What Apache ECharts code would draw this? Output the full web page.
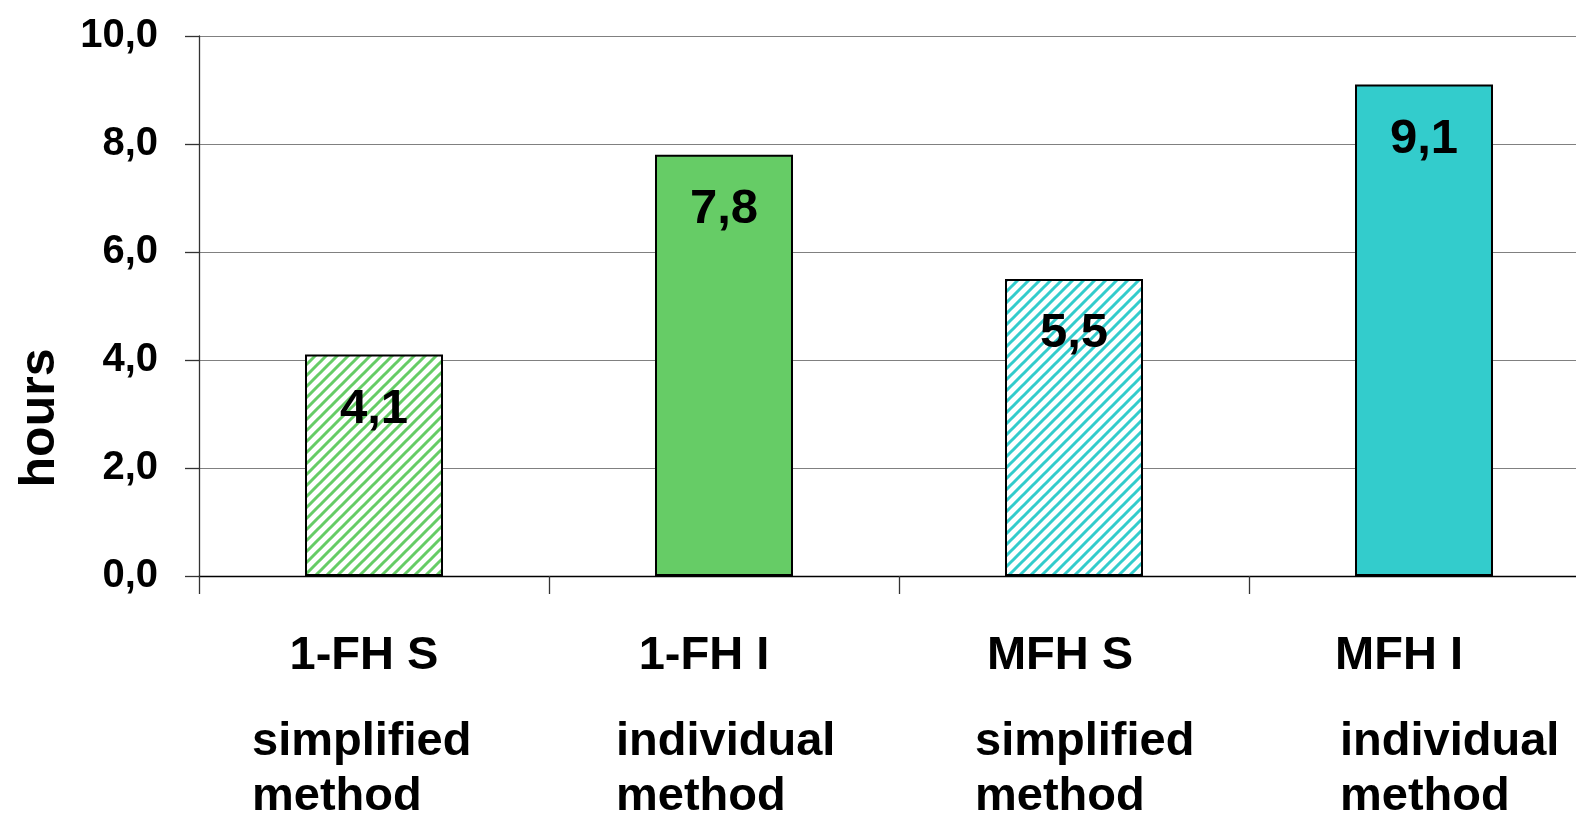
<!DOCTYPE html>
<html>
<head>
<meta charset="utf-8">
<script src="https://cdn.jsdelivr.net/npm/echarts@6/dist/echarts.min.js"></script>
<style>
html,body{margin:0;padding:0;background:#fff;}
#chart{width:1576px;height:819px;}
</style>
</head>
<body>
<div id="chart"></div>
<script>
// ---- data ----
var codes = ['1-FH S', '1-FH I', 'MFH S', 'MFH I'];
var methods = ['simplified', 'individual', 'simplified', 'individual'];
var values = [4.1, 7.8, 5.5, 9.1];
var yTicks = [0, 2, 4, 6, 8, 10];

// ---- styles ----
var GREEN = '#66cc66', TEAL = '#33cccc';
var FONT = '"Liberation Sans", Arial, sans-serif';

function hatch(color) {
  var s = 11;
  var c = document.createElement('canvas');
  c.width = s; c.height = s;
  var g = c.getContext('2d');
  g.fillStyle = '#ffffff';
  g.fillRect(0, 0, s, s);
  g.strokeStyle = color;
  g.lineWidth = 3;
  g.beginPath();
  g.moveTo(-2, s + 2); g.lineTo(s + 2, -2);
  g.moveTo(-2, 2); g.lineTo(2, -2);
  g.moveTo(s - 2, s + 2); g.lineTo(s + 2, s - 2);
  g.stroke();
  return { image: c, repeat: 'repeat' };
}

var fills = [hatch(GREEN), GREEN, hatch(TEAL), TEAL];
// horizontal nudges of label lines (code line, method lines) relative to category centre
var codeShift = [-10, -20, -14, -25];
var subShift = [-11, 3, 12, 27];

function spacerLine(text, style, shift) {
  var w = Math.round(Math.abs(shift) * 2);
  var sp = '{sp' + w + '| }';
  if (shift >= 0) return sp + '{' + style + '|' + text + '}';
  return '{' + style + '|' + text + '}' + sp;
}

var rich = {
  c: { fontFamily: FONT, fontWeight: 'bold', fontSize: 47, color: '#000', lineHeight: 117 },
  s: { fontFamily: FONT, fontWeight: 'bold', fontSize: 47, color: '#000', lineHeight: 55, width: 222, align: 'left' }
};
codeShift.concat(subShift).forEach(function (v) {
  var w = Math.round(Math.abs(v) * 2);
  rich['sp' + w] = { width: w, fontSize: 10, lineHeight: 10, align: 'left' };
});

var chart = echarts.init(document.getElementById('chart'), null, { renderer: 'canvas' });
chart.setOption({
  animation: false,
  backgroundColor: '#ffffff',
  grid: { left: 199, top: 36, width: 1400, height: 540, containLabel: false, outerBoundsMode: 'none' },
  xAxis: {
    type: 'category',
    data: codes,
    boundaryGap: true,
    axisLine: { lineStyle: { color: '#000', width: 1.3 } },
    axisTick: { show: true, length: 18, inside: false, lineStyle: { color: '#333', width: 1.3 } },
    axisLabel: {
      interval: 0,
      margin: 22,
      align: 'center',
      formatter: function (v, i) {
        return spacerLine(codes[i], 'c', codeShift[i]) + '\n' +
               spacerLine(methods[i], 's', subShift[i]) + '\n' +
               spacerLine('method', 's', subShift[i]);
      },
      rich: rich
    }
  },
  yAxis: {
    type: 'value',
    min: 0, max: 10, interval: 2,
    axisLine: { show: true, lineStyle: { color: '#333', width: 1.3 } },
    axisTick: { show: true, length: 14, lineStyle: { color: '#333', width: 1.3 } },
    splitLine: { show: true, lineStyle: { color: '#808080', width: 1.2 } },
    axisLabel: {
      margin: 41,
      fontFamily: FONT, fontWeight: 'bold', fontSize: 40, color: '#000',
      verticalAlign: 'middle',
      padding: [0, 0, 14, 0],
      formatter: function (v) { return v.toFixed(1).replace('.', ','); }
    }
  },
  graphic: [{
    type: 'text',
    x: 40, y: 418,
    rotation: Math.PI / 2,
    style: {
      text: 'hours', fontFamily: FONT, fontWeight: 'bold', fontSize: 50, fill: '#000',
      align: 'center', verticalAlign: 'middle'
    }
  }],
  series: [{
    type: 'bar',
    barWidth: 138,
    data: values.map(function (v, i) {
      return { value: v, itemStyle: { color: fills[i], borderColor: '#000', borderWidth: 2 } };
    }),
    label: {
      show: true,
      position: 'insideTop',
      distance: 30,
      fontFamily: FONT, fontWeight: 'bold', fontSize: 49, color: '#000',
      formatter: function (p) { return p.value.toFixed(1).replace('.', ','); }
    }
  }]
});
</script>
</body>
</html>
